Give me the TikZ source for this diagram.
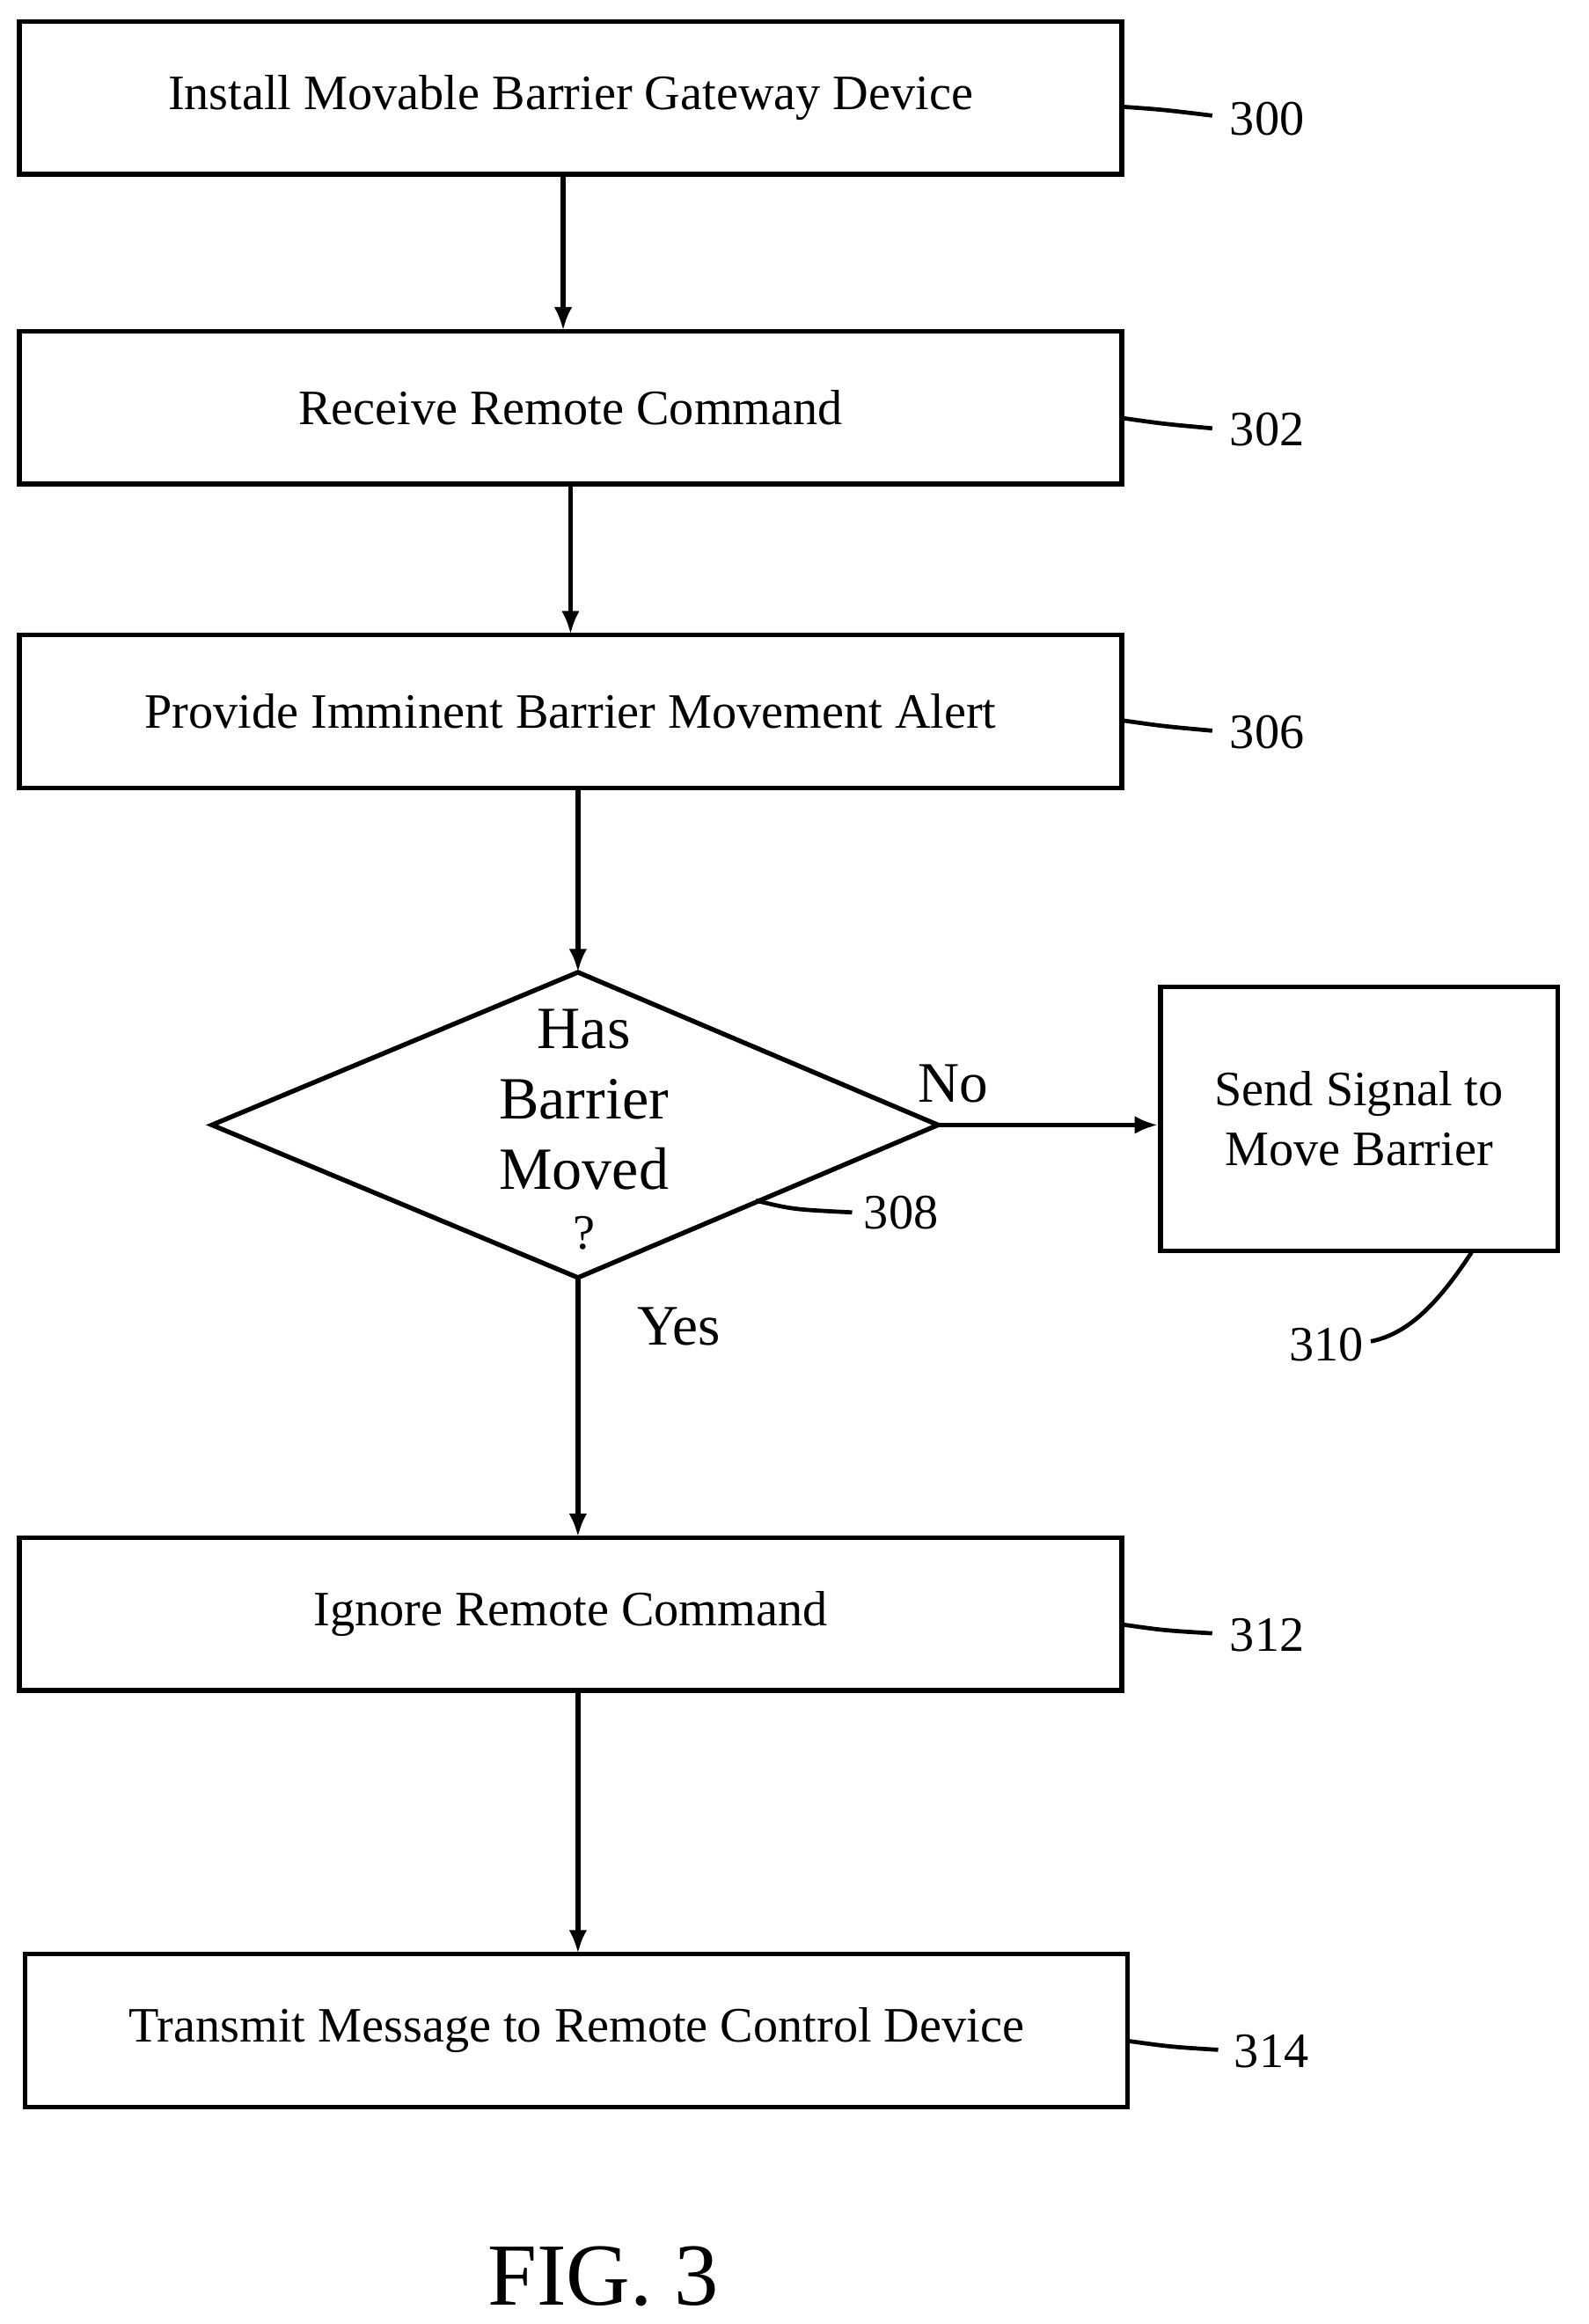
\documentclass[tikz,border=0pt]{standalone}
\usepackage{fontspec}
\setmainfont{Liberation Serif}
\usetikzlibrary{shapes.geometric,arrows.meta}
\tikzset{
  stepbox/.style={draw,line width=1.8pt,minimum width=14.88cm,minimum height=2.06cm,font=\fontsize{19}{23}\selectfont},
  flow/.style={-{Latex[length=9pt,width=7pt]},line width=1.8pt},
  lead/.style={line width=1.6pt},
  num/.style={font=\fontsize{19}{23}\selectfont}
}
\begin{document}
\begin{tikzpicture}[x=0.02cm,y=-0.02cm]
    \useasboundingbox (0,0) rectangle (1072,1568);

    \node[stepbox] (s300) at (385,66) {Install Movable Barrier Gateway Device};
    \node[stepbox] (s302) at (385,275) {Receive Remote Command};
    \node[stepbox] (s306) at (385,480) {Provide Imminent Barrier Movement Alert};
    \node[stepbox] (s312) at (385,1089) {Ignore Remote Command};
    \node[stepbox] (s314) at (389,1370) {Transmit Message to Remote Control Device};
    \draw[line width=1.8pt] (143,759) -- (390,656) -- (633,759) -- (390,862) -- cycle;
    \coordinate (d308) at (633,759);
    \node[font=\fontsize{23}{27}\selectfont,align=center] (q308) at (394,762) {Has\\Barrier\\Moved\\[-4pt]{\fontsize{19}{22}\selectfont ?}};
    \node[draw,line width=1.8pt,minimum width=5.36cm,minimum height=3.56cm,align=center,
          font=\fontsize{19}{23}\selectfont] (s310) at (917,755) {Send Signal to\\Move Barrier};

    \draw[flow] (380,117) -- (380,223);
    \draw[flow] (385,326) -- (385,428);
    \draw[flow] (390,531) -- (390,656);
    \draw[flow] (d308) -- (s310.west |- d308);
    \draw[flow] (390,862) -- (390,1037);
    \draw[flow] (390,1140) -- (390,1318);

    \node[font=\fontsize{22}{26}\selectfont] (no) at (643,731) {No};
    \node[font=\fontsize{22}{26}\selectfont] (yes) at (458,895) {Yes};

    % reference numerals
    \node[num] (n300) at (855,80) {300};
    \node[num] (n302) at (855,290) {302};
    \node[num] (n306) at (855,494) {306};
    \node[num] (n308) at (608,818) {308};
    \node[num] (n310) at (895,907) {310};
    \node[num] (n312) at (855,1103) {312};
    \node[num] (n314) at (858,1384) {314};
    \draw[lead] (757,72) .. controls (785,74) .. (818,78);
    \draw[lead] (757,282) .. controls (785,286) .. (818,289);
    \draw[lead] (757,486) .. controls (785,490) .. (818,493);
    \draw[lead] (510,810) .. controls (535,816) .. (575,818);
    \draw[lead] (993,845) .. controls (970,880) and (950,900) .. (925,905);
    \draw[lead] (757,1096) .. controls (785,1100) .. (818,1102);
    \draw[lead] (761,1377) .. controls (790,1381) .. (822,1383);

    \node[font=\fontsize{34}{40}\selectfont] (fig) at (407,1536) {FIG. 3};
\end{tikzpicture}
\end{document}
